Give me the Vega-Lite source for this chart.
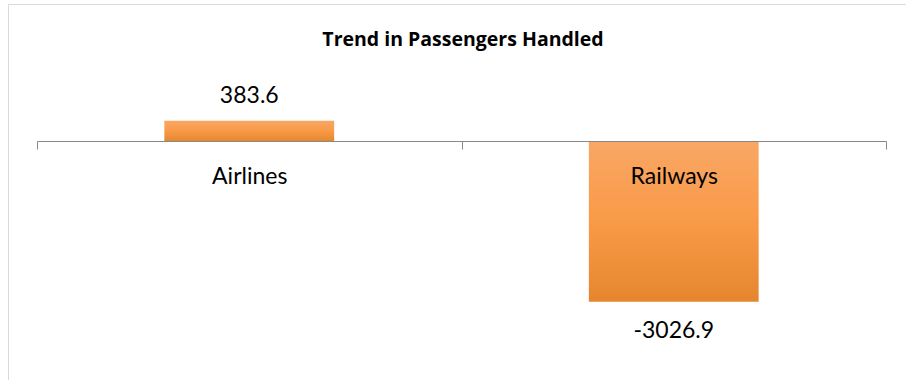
{
  "$schema": "https://vega.github.io/schema/vega-lite/v6.json",
  "width": 910,
  "height": 390,
  "autosize": {"type": "none"},
  "padding": {"left": 8, "top": 4, "right": 0, "bottom": 0},
  "background": "white",
  "title": {
    "text": "Trend in Passengers Handled",
    "font": "Open Sans",
    "fontSize": 19.5,
    "fontWeight": "bold",
    "color": "#000000",
    "anchor": "middle",
    "baseline": "alphabetic",
    "offset": -61
  },
  "data": {
    "values": [
      {"mode": "Airlines", "value": 383.6},
      {"mode": "Railways", "value": -3026.9}
    ]
  },
  "encoding": {
    "x": {
      "field": "mode",
      "type": "nominal",
      "sort": null,
      "scale": {"range": [29, 878], "paddingInner": 0, "paddingOuter": 0},
      "axis": {
        "orient": "bottom",
        "offset": -253,
        "title": null,
        "tickBand": "extent",
        "tickSize": 8,
        "tickColor": "#888888",
        "domainColor": "#888888",
        "tickWidth": 1,
        "domainWidth": 1,
        "labelFont": "Lato",
        "labelFontSize": 23,
        "labelColor": "#000000",
        "labelAngle": 0,
        "labelBaseline": "alphabetic",
        "labelPadding": 34,
        "zindex": 1
      }
    }
  },
  "layer": [
    {
      "mark": {
        "type": "bar",
        "width": {"band": 0.4},
        "color": {
          "gradient": "linear",
          "x1": 0, "y1": 0, "x2": 0, "y2": 1,
          "stops": [
            {"offset": 0, "color": "#F9A765"},
            {"offset": 0.5, "color": "#F99A48"},
            {"offset": 1, "color": "#E5862F"}
          ]
        }
      },
      "encoding": {
        "y": {
          "field": "value",
          "type": "quantitative",
          "scale": {"domain": [-3936.6, 1337.4], "range": [346, 66], "nice": false, "zero": false},
          "axis": null
        }
      }
    },
    {
      "transform": [{"filter": "datum.value >= 0"}],
      "mark": {"type": "text", "baseline": "alphabetic", "dy": -18, "font": "Lato", "fontSize": 23, "color": "#000000"},
      "encoding": {
        "y": {"field": "value", "type": "quantitative"},
        "text": {"field": "value", "type": "nominal"}
      }
    },
    {
      "transform": [{"filter": "datum.value < 0"}],
      "mark": {"type": "text", "baseline": "alphabetic", "dy": 36, "font": "Lato", "fontSize": 23, "color": "#000000"},
      "encoding": {
        "y": {"field": "value", "type": "quantitative"},
        "text": {"field": "value", "type": "nominal"}
      }
    }
  ],
  "config": {"view": {"stroke": "#d9d9d9", "strokeWidth": 1}}
}
